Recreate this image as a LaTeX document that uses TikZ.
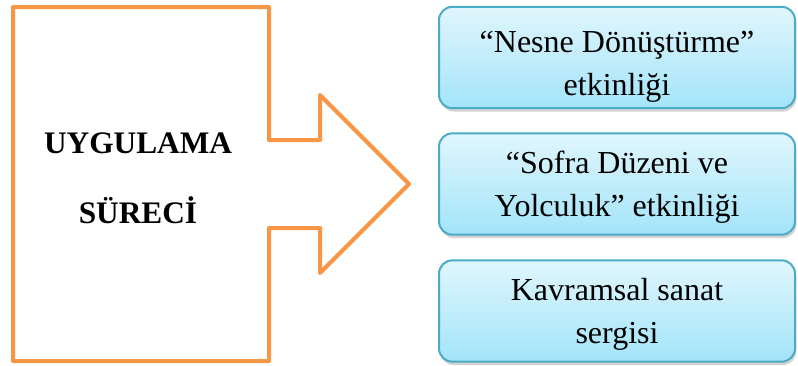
\documentclass[tikz,border=0pt]{standalone}
\usepackage{fontspec}
\setmainfont{Liberation Serif}
\usepackage{xcolor}
\usetikzlibrary{shadows}
\definecolor{arroworange}{HTML}{F79646}
\definecolor{boxedge}{HTML}{4BACC6}
\definecolor{boxtop}{HTML}{E0F6FD}
\definecolor{boxbottom}{HTML}{A3E4F9}

\begin{document}
\begin{tikzpicture}[x=0.75pt, y=-0.75pt]
            \tikzset{process/.style={arroworange, line width=3pt, line join=round}}
            \tikzset{evbox/.style={draw=boxedge, line width=1.5pt, rounded corners=10pt,
                top color=boxtop, bottom color=boxbottom,
                drop shadow={shadow xshift=1pt, shadow yshift=-2.5pt, opacity=0.35},
                minimum width=267pt, minimum height=76pt, inner sep=0pt}}
            \tikzset{evtext/.style={align=center, inner sep=0pt,
                font=\fontsize{24}{32.25}\selectfont, yshift=-2.25pt}}
            \useasboundingbox (0, 0) rectangle (798, 365);
            % outline of the box with its arrow
            \draw[process] (13, 7) -- (269, 7) -- (269, 140) -- (320, 140) -- (320, 95)
                -- (409, 184) -- (320, 273) -- (320, 228) -- (269, 228) -- (269, 361)
                -- (13, 361) -- cycle;
            \node[align=center, font=\fontsize{23.5}{52.5}\selectfont\bfseries] (surec) at (138, 178)
                {UYGULAMA\\SÜRECİ};
            % activities
            \node[evbox] (nesne) at (617, 57.5) {};
            \node[evbox] (sofra) at (617, 184) {};
            \node[evbox] (sergi) at (617, 311) {};
            \node[evtext, yshift=-4.5pt] (nesnetext) at (nesne) {“Nesne Dönüştürme”\\etkinliği};
            \node[evtext] (sofratext) at (sofra) {“Sofra Düzeni ve\\Yolculuk” etkinliği};
            \node[evtext] (sergitext) at (sergi) {Kavramsal sanat\\sergisi};
\end{tikzpicture}
\end{document}
